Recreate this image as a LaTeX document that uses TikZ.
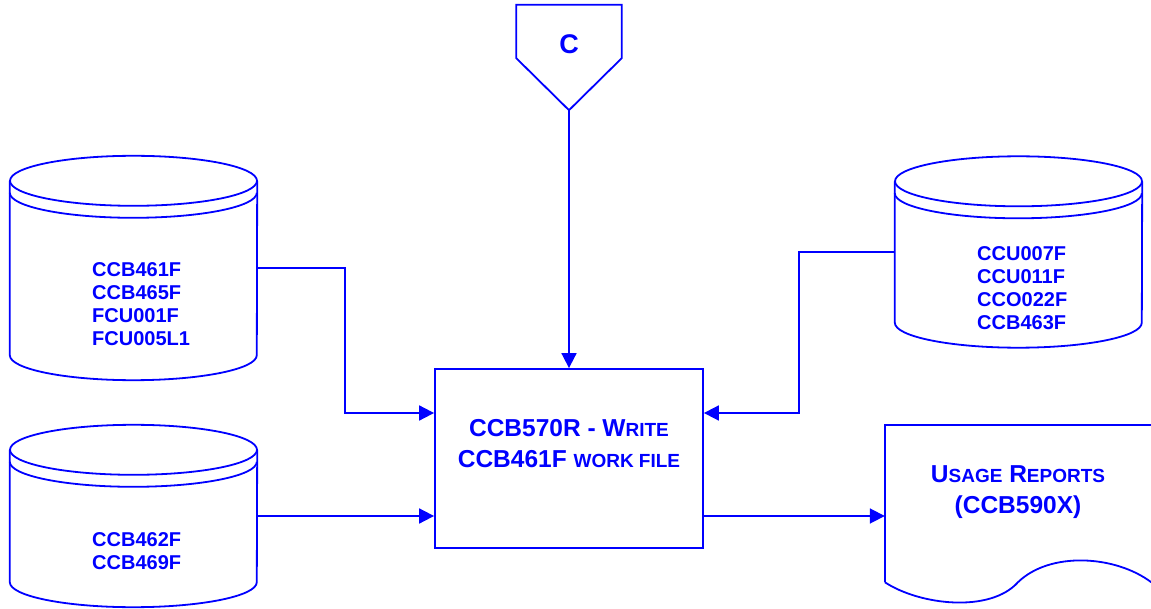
\documentclass[tikz,border=0pt]{standalone}
\usepackage{fontspec}
\setmainfont{Liberation Sans}
\usetikzlibrary{arrows.meta}
\usetikzlibrary{positioning}

\definecolor{flowblue}{RGB}{0,0,255}
\newcommand{\scs}{\fontsize{19}{31}\selectfont}
\newcommand{\drawdisk}[1]{%
	\draw[blueline] (#1.north) ellipse [x radius=123.5, y radius=25];
	\draw[blueline] ([yshift=-12pt]#1.north west) arc [start angle=180, end angle=0, x radius=123.5, y radius=25];
	\draw[blueline] (#1.north west) -- (#1.south west) arc [start angle=180, end angle=0, x radius=123.5, y radius=25] -- (#1.north east);
}
\tikzset{
	blueline/.style={draw=flowblue, line width=1.8pt},
	flow/.style={blueline, -{Triangle[length=15pt,width=15pt]}},
	disk/.style={rectangle, minimum width=247pt, inner sep=0pt},
	disktext/.style={text=flowblue, font=\bfseries\fontsize{20}{23}\selectfont, align=left, anchor=west, inner sep=0pt},
	bigtext/.style={text=flowblue, font=\bfseries\fontsize{24.5}{31}\selectfont, align=center, inner sep=0pt},
	process/.style={blueline, rectangle, minimum width=268pt, minimum height=179pt, inner sep=0pt},
	report/.style={rectangle, minimum width=266pt, minimum height=157pt, inner sep=0pt},
	offpage/.style={rectangle, minimum width=105pt, minimum height=105pt, inner sep=0pt}
}

\begin{document}
\begin{tikzpicture}[x=1pt,y=-1pt]
	\useasboundingbox (0,0) rectangle (1151,609);
	\node[offpage] (conC) at (569,57.5) {};
	\node[bigtext, font=\bfseries\fontsize{27}{31}\selectfont] (conC-label) at (569,44) {C};
	\node[process] (write) at (569,458.5) {};
	\node[bigtext] (write-label) at (569,444) {CCB570R - W{\scs RITE}\\CCB461F {\scs WORK FILE}};
	\node[disk, minimum height=174pt] (rd1) at (133.5,268) {};
	\node[disktext] (rd1-label) at (92,304.5) {CCB461F\\CCB465F\\FCU001F\\FCU005L1};
	\node[disk, minimum height=132pt] (rd2) at (133.5,516) {};
	\node[disktext] (rd2-label) at (92,551) {CCB462F\\CCB469F};
	\node[disk, minimum height=141pt] (rd3) at (1018.5,252) {};
	\node[disktext] (rd3-label) at (977,288) {CCU007F\\CCU011F\\CCO022F\\CCB463F};
	\node[report] (doc) at (1018,503.5) {};
	\node[bigtext] (doc-label) at (1018,492) {U{\scs SAGE} R{\scs EPORTS}\\(CCB590X)};
	\coordinate (inL) at ([yshift=45.5pt]write.west);
	\coordinate (inR) at ([yshift=45.5pt]write.east);

	\draw[blueline] (conC.north west) -- (conC.north east) -- ([yshift=52pt]conC.south east)
		-- (conC.south) -- ([yshift=52pt]conC.south west) -- cycle;
	\drawdisk{rd1}
	\drawdisk{rd2}
	\drawdisk{rd3}
	\draw[blueline] (doc.south west) -- (doc.north west) -- (doc.north east);
	\draw[blueline] (doc.south west) .. controls +(35,23) and +(-28,31) .. (doc.south)
		.. controls +(32,-31) and +(-36,-27) .. (doc.south east);

	\draw[flow] (conC.south) -- (write.north);
	\draw[flow] (rd1.east) -- ++(88,0) |- (inL);
	\draw[flow] (rd2.east) -- (write.west |- rd2.east);
	\draw[flow] (rd3.west) -- ++(-96,0) |- (inR);
	\draw[flow] (write.east |- rd2.east) -- (doc.west |- rd2.east);
\end{tikzpicture}
\end{document}
